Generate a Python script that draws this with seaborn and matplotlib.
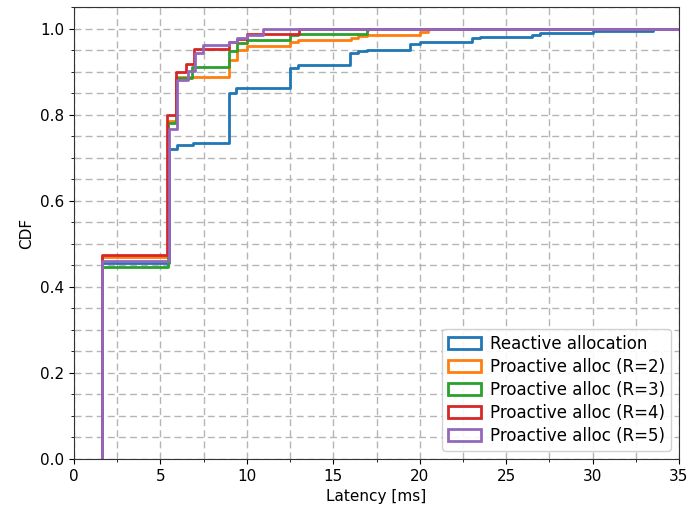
import matplotlib
matplotlib.use("Agg")
import matplotlib.pyplot as plt
import seaborn as sns
import pandas as pd
from matplotlib.patches import Patch
from matplotlib.ticker import AutoMinorLocator

# CDF step points (latency in ms, cumulative fraction)
reactive_x = [1.6, 1.6, 5.5, 5.95, 6.9, 8.98, 9.4, 12.5, 12.97, 15.96, 16.45, 16.93, 19.43, 20.0, 23.0, 23.5, 26.47, 26.95, 30.03, 33.5, 35]
reactive_y = [0.0, 0.455, 0.719, 0.729, 0.734, 0.850, 0.862, 0.909, 0.916, 0.942, 0.947, 0.950, 0.965, 0.969, 0.978, 0.981, 0.986, 0.990, 0.994, 1.0, 1.0]

r2_x = [1.6, 1.6, 5.45, 5.9, 8.98, 9.41, 9.99, 12.5, 12.97, 16.0, 16.45, 16.93, 20.0, 20.5, 35]
r2_y = [0.0, 0.47, 0.785, 0.888, 0.928, 0.951, 0.959, 0.969, 0.973, 0.977, 0.982, 0.986, 0.992, 1.0, 1.0]

r3_x = [1.6, 1.6, 5.45, 5.9, 6.8, 8.98, 9.41, 9.99, 12.5, 12.97, 16.93, 17.0, 35]
r3_y = [0.0, 0.445, 0.78, 0.884, 0.91, 0.947, 0.967, 0.974, 0.984, 0.988, 0.996, 1.0, 1.0]

r4_x = [1.6, 1.6, 5.4, 5.9, 6.5, 6.94, 8.98, 9.41, 10.0, 13.0, 35]
r4_y = [0.0, 0.474, 0.798, 0.898, 0.918, 0.953, 0.968, 0.975, 0.988, 1.0, 1.0]

r5_x = [1.6, 1.6, 5.5, 5.95, 6.6, 7.0, 7.48, 8.98, 9.41, 9.99, 10.95, 35]
r5_y = [0.0, 0.46, 0.767, 0.881, 0.902, 0.942, 0.961, 0.969, 0.978, 0.984, 1.0, 1.0]

labels = ["Reactive allocation", "Proactive alloc (R=2)", "Proactive alloc (R=3)",
          "Proactive alloc (R=4)", "Proactive alloc (R=5)"]
series = [(reactive_x, reactive_y), (r2_x, r2_y), (r3_x, r3_y), (r4_x, r4_y), (r5_x, r5_y)]

colors = sns.color_palette("tab10", 5)

fig = plt.figure(figsize=(6.89, 5.13), dpi=100)
ax = fig.add_axes([74 / 689, 54 / 513, 605 / 689, 452 / 513])

for (xs, ys), lab, c in zip(series, labels, colors):
    df = pd.DataFrame({"x": xs, "y": ys})
    sns.lineplot(data=df, x="x", y="y", ax=ax, color=c, lw=2, sort=False,
                 estimator=None, drawstyle="steps-post")

ax.set_xlim(0, 35)
ax.set_ylim(0, 1.05)
ax.xaxis.set_minor_locator(AutoMinorLocator(2))
ax.yaxis.set_minor_locator(AutoMinorLocator(4))
ax.grid(True, which="both", linestyle=(0, (5, 3)), color="#b5b5b5", lw=1)
ax.set_axisbelow(True)
ax.tick_params(labelsize=11)
ax.set_xlabel("Latency [ms]", fontsize=11)
ax.set_ylabel("CDF", fontsize=11)
for s in ax.spines.values():
    s.set_color("#333333")

handles = [Patch(facecolor="none", edgecolor=c, lw=2) for c in colors]
ax.legend(handles, labels, loc="lower right", fontsize=12, framealpha=0.9,
          labelspacing=0.3, handletextpad=0.5, borderpad=0.35)

fig.savefig("out.png", dpi=100)
